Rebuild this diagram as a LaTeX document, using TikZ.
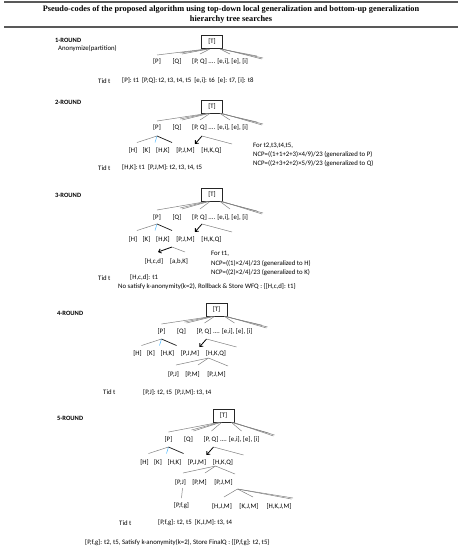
\documentclass[tikz,border=0pt]{standalone}
\usepackage{fontspec}
\setmainfont{Carlito}
\newfontfamily\titlefont{Liberation Serif}
\usetikzlibrary{arrows.meta}
\tikzset{
  txt/.style={anchor=west,inner sep=0pt,font=\fontsize{6.8}{8}\selectfont},
  lbl/.style={inner sep=0pt,font=\fontsize{6.8}{8}\selectfont},
  rnd/.style={anchor=west,inner sep=0pt,font=\fontsize{6.5}{8}\selectfont\bfseries},
  ttl/.style={inner sep=0pt,font=\fontsize{8.3}{10}\titlefont\bfseries},
  tbox/.style={draw=black!85,line width=0.9pt,minimum width=21pt,minimum height=13pt,inner sep=0pt,font=\fontsize{6.8}{8}\selectfont},
  fanline/.style={draw=black!50,line width=0.5pt},
  darkline/.style={draw=black!90,line width=0.7pt},
  bluetick/.style={draw=blue!40!cyan!70!white,line width=0.5pt},
  arrowline/.style={draw=black,line width=0.8pt,-{Straight Barb[length=2.5pt,width=4.5pt]}},
  rule/.style={draw=black!65,line width=1.4pt}
}
% top row of a round: id, cx, L, box offset
\newcommand{\toprow}[4]{%
 \begin{scope}[shift={(#2,#3)}]
  \node[tbox] (#1T) at (0,#4) {[T]};
  \node[lbl] (#1P) at (-55,0) {[P]};
  \node[lbl] (#1Q) at (-35,0) {[Q]};
  \node[lbl,anchor=west] (#1R) at (-20,0) {[P, Q] .... [e,i], [e], [i]};
  \coordinate (#1fa) at (-55,-7);
  \coordinate (#1fb) at (-32,-9);
  \coordinate (#1fbb) at (-30,-8);
  \coordinate (#1fc) at (-12,-8);
  \coordinate (#1fd) at (18,-8);
  \coordinate (#1fe) at (45,-6);
  \coordinate (#1ff) at (51,-4);
  \coordinate (#1fff) at (50,-3);
  \draw[fanline] ([xshift=-5pt]#1T.south) -- (#1fa);
  \draw[fanline] ([xshift=-4pt]#1T.south) -- (#1fb);
  \draw[fanline] ([xshift=-3pt]#1T.south) -- (#1fbb);
  \draw[fanline] ([xshift=-2pt]#1T.south) -- (#1fc);
  \draw[fanline] ([xshift=8pt]#1T.south) -- (#1fd);
  \draw[fanline] ([xshift=8pt]#1T.south) -- (#1fe);
  \draw[fanline] ([xshift=9pt]#1T.south) -- (#1ff);
  \draw[fanline] ([xshift=10pt]#1T.south) -- (#1fff);
 \end{scope}}
% second row: id, cx, L
\newcommand{\midrow}[3]{%
 \begin{scope}[shift={(#2,#3)}]
  \node[lbl] (#1H) at (-79,23) {[H]};
  \node[lbl] (#1K) at (-65.5,23) {[K]};
  \node[lbl] (#1HK) at (-49,23) {[H,K]};
  \node[lbl] (#1PJM) at (-26.5,23) {[P,J,M]};
  \node[lbl] (#1HKQ) at (-0.5,23) {[H,K,Q]};
  \coordinate (#1pa) at (-55,8);
  \coordinate (#1pl) at (-75,14.5);
  \coordinate (#1pb) at (-57,14.5);
  \coordinate (#1pr) at (-40,14.5);
  \draw[fanline] (#1pa) -- (#1pl);
  \draw[bluetick] (#1pa) -- (#1pb);
  \draw[darkline] (#1pa) -- (#1pr);
  \coordinate (#1qa) at (-10,8);
  \coordinate (#1qt) at (-17,16);
  \coordinate (#1qr) at (20,16);
  \draw[arrowline] (#1qa) -- (#1qt);
  \draw[fanline] (#1qa) -- (#1qr);
 \end{scope}}
% third row of rounds 4 and 5: id, cx, L
\newcommand{\lowrow}[3]{%
 \begin{scope}[shift={(#2,#3)}]
  \coordinate (#1ra) at (-8,27);
  \coordinate (#1rl) at (-40.5,34);
  \coordinate (#1rm) at (-18.5,34);
  \coordinate (#1rr) at (11.5,35);
  \draw[fanline] (#1ra) -- (#1rl);
  \draw[fanline] (#1ra) -- (#1rm);
  \draw[fanline] (#1ra) -- (#1rr);
  \node[lbl] (#1PJ) at (-43,43) {[P,J]};
  \node[lbl] (#1PM) at (-24,43) {[P,M]};
  \node[lbl] (#1PJMb) at (0,43) {[P,J,M]};
 \end{scope}}
\begin{document}
\begin{tikzpicture}[x=1pt,y=-1pt]
\useasboundingbox (0,0) rectangle (462,550);
% title
\draw[rule] (4,2) -- (458,2);
\node[ttl] (title1) at (231,9.5) {Pseudo-codes of the proposed algorithm using top-down local generalization and bottom-up generalization};
\node[ttl] (title2) at (231,20) {hierarchy tree searches};
\draw[rule] (4,27) -- (458,27);

% ---------- round 1
\node[rnd] (r1) at (55,40) {1-ROUND};
\node[txt] (anon) at (58,49) {Anonymize(partition)};
\toprow{a}{212}{62}{-20}
\node[txt] (atid) at (98,81) {Tid t};
\node[txt] (atx) at (122,81) {[P]: t1\ \ [P,Q]: t2, t3, t4, t5\ \ [e,i]: t6\ \ [e]: t7, [i]: t8};

% ---------- round 2
\node[rnd] (r2) at (55,102) {2-ROUND};
\toprow{b}{212}{128}{-21.5}
\midrow{b}{212}{128}
\node[txt] (bfor) at (253,146) {For t2,t3,t4,t5,};
\node[txt] (bn1) at (253,155) {NCP=((1+1+2+3)×4/9)/23 (generalized to P)};
\node[txt] (bn2) at (253,164) {NCP=((2+3+2+2)×5/9)/23 (generalized to Q)};
\node[txt] (btid) at (98,168) {Tid t};
\node[txt] (btx) at (122,168) {[H,K]: t1\ \ [P,J,M]: t2, t3, t4, t5};

% ---------- round 3
\node[rnd] (r3) at (55,195) {3-ROUND};
\toprow{c}{212}{217}{-22.5}
\midrow{c}{212}{216}
\begin{scope}[shift={(212,217)}]
  \coordinate (csa) at (-40,30);
  \coordinate (cst) at (-54,35);
  \coordinate (csr) at (-27,35);
  \draw[arrowline] (csa) -- (cst);
  \draw[fanline] (csa) -- (csr);
  \node[lbl] (cHcd) at (-58,44) {[H,c,d]};
  \node[lbl] (cabK) at (-33,44) {[a,b,K]};
\end{scope}
\node[txt] (cfor) at (211,254) {For t1,};
\node[txt] (cn1) at (211,263.5) {NCP=((1)×2/4)/23 (generalized to H)};
\node[txt] (cn2) at (211,273) {NCP=((2)×2/4)/23 (generalized to K)};
\node[txt] (ctid) at (98,278) {Tid t};
\node[txt] (ctx) at (130,278) {[H,c,d]: t1};
\node[txt] (cno) at (118,287) {No satisfy k-anonymity(k=2), Rollback \& Store WFQ : \{[H,c,d]: t1\}};

% ---------- round 4
\node[rnd] (r4) at (57,313) {4-ROUND};
\toprow{d}{216.5}{331}{-21.5}
\midrow{d}{216.5}{331}
\lowrow{d}{216.5}{331}
\node[txt] (dtid) at (103,392) {Tid t};
\node[txt] (dtx) at (143,392) {[P,J]: t2, t5\ \ [P,J,M]: t3, t4};

% ---------- round 5
\node[rnd] (r5) at (57,418) {5-ROUND};
\toprow{e}{223.5}{439}{-23.5}
\midrow{e}{223.5}{439}
\lowrow{e}{223.5}{439}
\begin{scope}[shift={(223.5,439)}]
  \coordinate (eua) at (-41,49);
  \coordinate (eub) at (-42,59);
  \draw[fanline] (eua) -- (eub);
  \coordinate (eva) at (14,50);
  \coordinate (evl) at (0.5,58);
  \coordinate (evm) at (29.5,58);
  \coordinate (evr) at (69.5,59);
  \coordinate (evrr) at (68,60);
  \draw[fanline] (eva) -- (evl);
  \draw[fanline] (eva) -- (evm);
  \draw[fanline] (eva) -- (evr);
  \draw[fanline] (eva) -- (evrr);
  \node[lbl] (ePfg) at (-42,67) {[P,f,g]};
  \node[lbl] (eHJM) at (-1.5,67) {[H,J,M]};
  \node[lbl] (eKJM) at (25.5,67) {[K,J,M]};
  \node[lbl] (eHKJM) at (55.5,67) {[H,K,J,M]};
\end{scope}
\node[txt] (etid) at (119,523) {Tid t};
\node[txt] (etx) at (158,523) {[P,f,g]: t2, t5\ \ [K,J,M]: t3, t4};
\node[txt] (efin) at (85,543) {[P,f,g]: t2, t5, Satisfy k-anonymity(k=2), Store FinalQ : \{[P,f,g]: t2, t5\}};
\end{tikzpicture}
\end{document}
